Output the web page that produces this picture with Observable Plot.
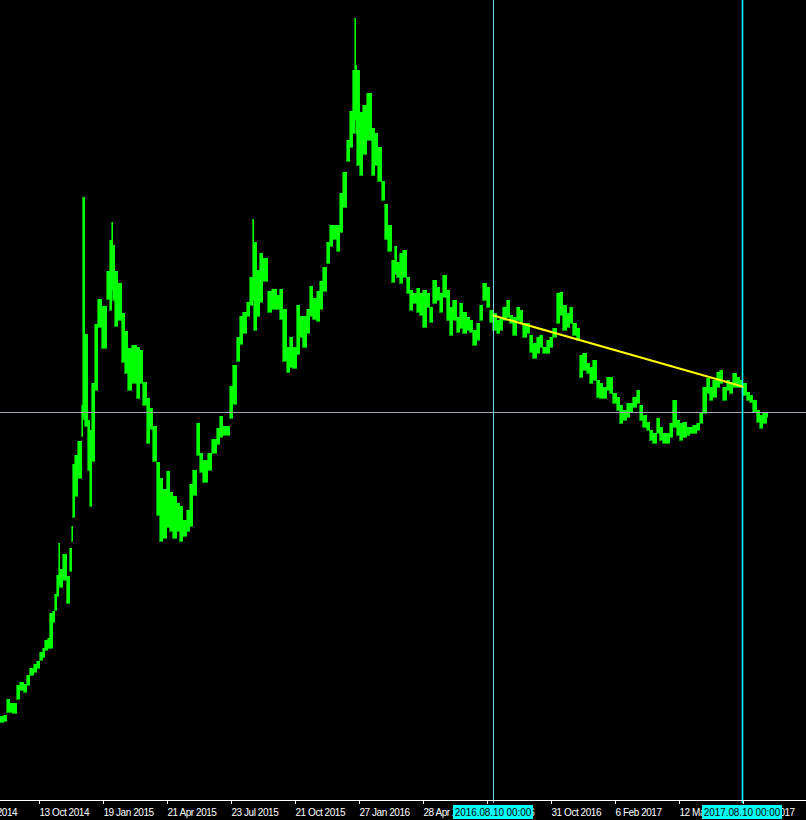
<!DOCTYPE html>
<html><head><meta charset="utf-8">
<script src="https://cdn.jsdelivr.net/npm/d3@7"></script>
<script src="https://cdn.jsdelivr.net/npm/@observablehq/plot@0.6"></script>
<style>html,body{margin:0;padding:0;background:#000;overflow:hidden}</style>
</head><body><div id="chart"></div>
<script>
// bar index (1 bar per trading day) where each sampled block starts
const barStart = [
 0,4,7,10,13,17,20,24,27,30,
 34,37,40,43,45,48,50,53,55,57,
 59,60,63,67,70,72,73,75,78,82,
 83,85,88,90,92,95,98,102,107,110,
 112,113,115,118,122,125,128,132,137,140,
 143,147,150,153,157,160,163,167,170,173,
 177,180,183,187,190,193,197,200,203,208,
 212,217,220,223,230,233,237,240,243,247,
 250,253,254,257,260,263,268,272,277,280,
 283,287,290,293,297,300,303,307,310,313,
 317,320,323,327,330,333,337,340,343,347,
 350,353,355,356,357,360,363,367,372,375,
 378,382,385,388,392,395,397,400,403,407,
 410,413,417,420,423,427,430,433,437,440,
 443,447,450,453,457,460,463,467,470,473,
 477,480,483,487,490,493,497,500,503,507,
 510,513,517,520,523,527,530,533,537,540,
 543,547,550,553,557,560,563,567,570,573,
 577,580,583,587,590,593,597,600,603,607,
 610,613,617,620,623,627,630,633,637,640,
 643,647,650,653,657,660,663,667,670,673,
 677,680,683,687,690,693,697,700,703,707,
 710,713,717,720,723,727,730,733,737,740,
 743,747,750,753,757,760,763,767
];
const lastBar = 768;
const barHigh = [
 8.4,8.5,10.1,9.7,9.7,11.5,11.8,11.6,12.5,13.2,
 13.6,13.9,14.8,15.2,16.0,16.2,18.7,18.9,20.6,22.5,
 25.7,23.1,24.6,22.4,25.2,27.4,33.6,34.5,35.9,39.5,
 60.3,46.6,38.0,37.0,41.7,47.6,50.1,49.4,52.9,56.0,
 57.8,55.5,52.9,51.7,48.7,46.9,45.2,45.5,45.3,45.0,
 41.8,40.2,39.2,37.4,33.8,32.2,31.1,32.9,30.8,30.4,
 29.7,29.4,28.0,29.0,31.6,33.0,37.7,34.7,34.0,34.7,
 36.1,37.2,38.4,37.4,41.4,43.5,46.3,48.4,48.8,49.8,
 52.3,58.1,55.8,53.0,54.7,54.2,50.9,51.1,50.5,51.1,
 49.1,45.3,46.3,45.3,49.5,48.4,48.4,49.1,51.4,50.2,
 50.9,51.9,53.3,55.8,57.5,57.5,57.5,60.7,62.8,66.0,
 68.9,73.0,78.2,73.5,73.0,68.8,69.5,70.7,67.2,66.7,
 65.3,61.9,59.6,57.5,54.0,55.4,53.8,54.7,55.0,52.3,
 51.0,50.7,51.2,50.7,51.0,50.7,49.3,52.0,51.3,50.7,
 52.5,51.0,49.3,50.0,48.3,49.7,48.8,48.3,48.0,47.0,
 47.7,49.5,51.7,51.3,49.0,48.7,48.0,48.3,49.3,50.0,
 48.5,48.3,49.3,49.0,47.7,47.7,46.5,45.7,46.3,46.5,
 45.3,46.0,46.3,47.2,50.7,50.8,49.5,48.7,49.3,47.7,
 47.2,44.5,44.7,43.7,43.3,44.0,42.0,41.7,41.3,42.3,
 42.3,40.7,40.3,39.5,39.0,39.7,39.7,40.3,41.0,39.5,
 38.5,37.8,37.0,36.7,38.2,37.3,36.7,36.7,37.7,40.0,
 38.0,37.7,37.8,37.3,37.3,37.5,37.7,38.7,41.3,42.2,
 41.3,42.0,42.8,43.0,41.3,42.0,41.8,42.7,42.3,42.0,
 41.7,40.8,40.5,40.0,39.0,38.5,38.8,38.8
];
const barLow = [
 7.8,7.9,8.8,8.8,8.7,10.1,11.0,10.8,11.5,12.5,
 12.8,13.2,14.0,14.3,15.0,15.2,15.2,17.8,19.0,20.4,
 21.5,21.3,22.0,19.7,22.9,25.9,28.3,30.4,32.2,36.4,
 38.1,37.4,33.0,29.4,33.9,41.0,47.3,45.2,50.1,49.0,
 51.0,50.0,47.4,48.0,43.8,42.7,41.0,41.7,40.2,41.7,
 39.5,35.7,37.1,33.9,28.5,25.9,26.2,27.3,26.9,26.2,
 26.9,25.9,26.4,26.9,27.4,30.5,34.5,32.8,31.8,33.0,
 34.7,35.6,36.3,36.5,38.2,39.6,43.9,45.6,46.7,48.4,
 49.5,50.0,47.0,48.4,49.8,51.9,48.8,49.1,49.1,48.1,
 43.9,42.8,43.3,43.2,44.6,46.3,45.3,46.7,48.4,48.1,
 47.9,49.1,50.9,53.7,55.4,56.1,54.9,56.8,59.3,63.9,
 65.3,66.7,68.0,66.7,63.5,62.5,64.6,66.0,62.5,63.5,
 61.9,60.0,56.1,54.9,51.8,52.6,52.3,51.7,52.3,50.7,
 49.0,49.7,48.8,48.5,47.3,49.3,47.8,49.7,50.0,48.8,
 50.3,48.0,46.5,48.0,46.8,47.2,46.7,47.0,46.8,45.5,
 46.0,48.0,50.0,49.3,47.8,47.0,46.7,47.0,48.0,48.3,
 47.7,46.5,48.0,47.7,46.3,46.7,44.8,44.2,44.7,45.3,
 44.7,44.7,45.3,46.3,47.7,48.5,47.0,47.3,47.7,46.5,
 46.0,42.3,43.0,42.7,41.7,42.0,40.3,40.2,40.2,41.0,
 40.7,39.7,39.0,37.7,38.0,38.3,38.8,39.3,39.7,38.0,
 37.3,37.0,36.0,35.7,36.7,36.0,35.7,35.7,36.3,37.3,
 36.5,36.0,36.3,36.5,36.7,36.7,37.0,37.7,38.7,40.7,
 40.0,40.3,41.3,41.7,40.0,41.0,40.7,41.3,41.3,41.3,
 40.5,40.0,39.8,38.8,37.8,37.2,37.7,38.3
];
const tickBars = [-25,39,103,167,231,295,359,423,487,551,615,679,743];
const tickLabels = ["9 Jul 2014","13 Oct 2014","19 Jan 2015","21 Apr 2015","23 Jul 2015","21 Oct 2015","27 Jan 2016","28 Apr 2016","29 Jul 2016","31 Oct 2016","6 Feb 2017","12 May 2017","14 Aug 2017"];
const vLineBars = [493, 742];
const vLineLabels = ["2016.08.10 00:00", "2017.08.10 00:00"];
const hLinePrice = 38.8;
const trendBars = [493, 742];
const trendPrices = [48.5, 41.4];

const bars = barStart.map((s, i) => ({
  x1: s, x2: i + 1 < barStart.length ? barStart[i + 1] : lastBar,
  hi: barHigh[i], lo: barLow[i]
}));
const trend = trendBars.map((b, i) => ({bar: b, price: trendPrices[i]}));
const ticks = tickBars.map((b, i) => ({bar: b, label: tickLabels[i]}));

const FONT = "Liberation Sans, Arial, sans-serif";
const plot = Plot.plot({
  width: 806, height: 820,
  marginTop: 0, marginLeft: 0, marginRight: 0, marginBottom: 20,
  style: {background: "#000", color: "#fff", fontFamily: FONT, fontSize: "10px", overflow: "hidden"},
  x: {type: "linear", domain: [0, 806], axis: null},
  y: {domain: [0, 80], axis: null},
  marks: [
    Plot.rect(bars, {x1: "x1", x2: "x2", y1: "lo", y2: "hi", fill: "#00ff00", stroke: "#00ff00", strokeWidth: 0.6, inset: 0, dx: -0.5, shapeRendering: "crispEdges"}),
    Plot.ruleY([hLinePrice], {stroke: "#a0a4b0", strokeWidth: 1}),
    Plot.ruleX([vLineBars[0]], {stroke: "#6fd0e0", strokeWidth: 1, insetBottom: -3}),
    Plot.ruleX([vLineBars[1]], {stroke: "#00ffff", strokeWidth: 1.6, insetBottom: -3}),
    Plot.line(trend, {x: "bar", y: "price", stroke: "#ffff00", strokeWidth: 2}),
    Plot.frame({anchor: "bottom", stroke: "#fff"}),
    Plot.ruleX(ticks, {x: "bar", stroke: "#fff", insetTop: 800, insetBottom: -4}),
    Plot.text(ticks, {x: "bar", text: "label", frameAnchor: "bottom", lineAnchor: "middle", dy: 12, textAnchor: "start", fill: "#fff", fontSize: 10})
  ]
});
d3.select(plot).selectAll("text").style("letter-spacing", "-0.45px");
document.getElementById("chart").appendChild(plot);

const sx = plot.scale("x");
const svg = d3.select(plot);
vLineBars.forEach((b, i) => {
  const cx = sx.apply(b);
  svg.append("rect").attr("x", cx - 40).attr("y", 805).attr("width", 80).attr("height", 14).attr("fill", "#00ffff");
  svg.append("text").attr("x", cx).attr("y", 812).attr("dy", "0.35em").attr("text-anchor", "middle")
    .attr("fill", "#000").attr("font-size", 10).attr("font-family", FONT).style("letter-spacing", "-0.1px")
    .text(vLineLabels[i]);
});
</script></body></html>
